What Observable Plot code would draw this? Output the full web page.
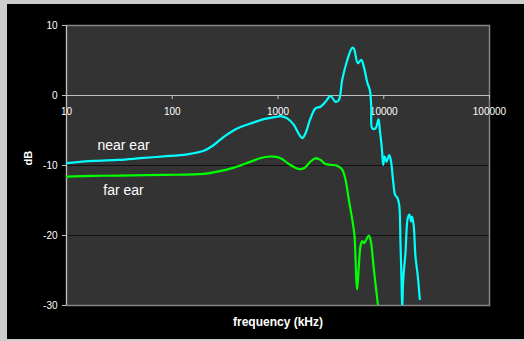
<!DOCTYPE html>
<html>
<head>
<meta charset="utf-8">
<script src="https://cdn.jsdelivr.net/npm/d3@7"></script>
<script src="https://cdn.jsdelivr.net/npm/@observablehq/plot@0.6"></script>
<style>
  html, body { margin: 0; padding: 0; background: #cdcdcd; }
  #wrap { position: absolute; left: 0; top: 0; width: 524px; height: 341px; background: #cdcdcd; overflow: hidden; }
  #chart { position: absolute; left: 7px; top: 4px; width: 517px; height: 335px; background: #000; }
  #chart svg { display: block; }
</style>
</head>
<body>
<div id="wrap"><div id="chart"></div></div>
<script>
// Frequency axis ticks and dB ticks
const xTicks = [10, 100, 1000, 10000, 100000];
const yTicks = [-30, -20, -10, 0, 10];

// near ear (cyan)
const nearFreq = [10, 18, 31, 50, 83, 138, 199, 247, 307, 411, 550, 735, 982, 1057, 1223, 1413, 1575, 1694, 1820, 2029, 2263, 2523, 2813, 3136, 3497, 3758, 4045, 4510, 5030, 5220, 5690, 6125, 6490, 6980, 7390, 7620, 7790, 8360, 8920, 9180, 9590, 9890, 10170, 10620, 11260, 11660, 12280, 12820, 13490, 14000, 14390, 14720, 14940, 15280, 16060, 16870, 17500, 18190, 18580, 19230, 19950, 20980, 21920];
const nearDb = [-9.67, -9.35, -9.2, -8.96, -8.7, -8.4, -7.9, -7.07, -5.9, -4.7, -4.0, -3.37, -3.04, -2.94, -3.27, -4.2, -5.5, -6.1, -5.4, -3.27, -1.85, -1.6, -0.9, -0.1, -0.9, -0.67, 2.2, 5.0, 6.83, 6.7, 4.6, 5.1, 4.07, 1.9, 0.75, -1.6, -4.7, -4.7, -3.4, -4.9, -7.5, -9.9, -8.7, -9.45, -8.5, -9.2, -12.3, -14.2, -14.65, -15.6, -21, -26.3, -30.5, -26.3, -22.4, -17.5, -17, -18, -17.3, -18.7, -23, -25.8, -29.1];

// far ear (green)
const farFreq = [10, 18, 31, 83, 199, 266, 382, 550, 735, 912, 1057, 1300, 1575, 1760, 2029, 2263, 2523, 2813, 3136, 3630, 4045, 4345, 4673, 5035, 5290, 5410, 5525, 5610, 5810, 6030, 6250, 6480, 6720, 7220, 7500, 8060, 8790];
const farDb = [-11.58, -11.48, -11.44, -11.34, -11.2, -10.87, -10.3, -9.45, -8.82, -8.73, -8.96, -9.9, -10.5, -10.4, -9.45, -8.96, -9.2, -9.8, -9.9, -10.05, -10.6, -12, -14.9, -17.7, -20.1, -23.4, -26.7, -27.7, -24.4, -21.5, -20.8, -21.1, -20.8, -20.0, -20.6, -24.8, -29.8];

// series labels
const labelText = ["near ear", "far ear"];
const labelFreq = [34.6, 34.6];
const labelDb = [-7.1, -13.6];

const near = nearFreq.map((f, i) => ({f, db: nearDb[i]}));
const far = farFreq.map((f, i) => ({f, db: farDb[i]}));
const labels = labelText.map((t, i) => ({t, f: labelFreq[i], db: labelDb[i]}));

const chart = Plot.plot({
  width: 517,
  height: 335,
  marginLeft: 59,
  marginRight: 35,
  marginTop: 21,
  marginBottom: 34,
  style: {background: "#000", color: "#fff", fontFamily: "'Liberation Sans', Arial, sans-serif", overflow: "visible"},
  x: {type: "log", domain: [10, 100000], axis: null},
  y: {domain: [-30, 10], axis: null},
  marks: [
    Plot.frame({fill: "#333333"}),
    Plot.ruleY([-20, -10], {stroke: "#111111", strokeWidth: 1}),
    Plot.frame({stroke: "#858585", strokeWidth: 1.5}),
    Plot.ruleY([0], {stroke: "#c0c0c0", strokeWidth: 1}),
    Plot.ruleX([10], {stroke: "#c0c0c0", strokeWidth: 1}),
    Plot.axisY({ticks: yTicks, tickSize: 4, tickPadding: 5, stroke: "#c0c0c0", fill: "#fff", fontSize: 10, tickFormat: d => String(d), label: null}),
    Plot.ruleX(xTicks, {x: d => d, y1: 0, y2: 0, insetBottom: -4, stroke: "#c0c0c0"}),
    Plot.text(xTicks, {x: d => d, y: 0, dy: 16, text: d => String(d), fill: "#fff", fontSize: 10}),
    Plot.line(near, {x: "f", y: "db", stroke: "#00ffff", strokeWidth: 2.2, curve: "catmull-rom", clip: true}),
    Plot.line(far, {x: "f", y: "db", stroke: "#00ff00", strokeWidth: 2.2, curve: "catmull-rom", clip: true}),
    Plot.text(labels, {x: "f", y: "db", text: "t", fill: "#fff", fontSize: 14}),
    Plot.text(["frequency (kHz)"], {frameAnchor: "bottom", dy: 20, fill: "#fff", fontSize: 12, fontWeight: "bold"}),
    Plot.text(["dB"], {frameAnchor: "left", dx: -38, rotate: -90, fill: "#fff", fontSize: 11, fontWeight: "bold"})
  ]
});
document.getElementById("chart").appendChild(chart);
</script>
</body>
</html>
